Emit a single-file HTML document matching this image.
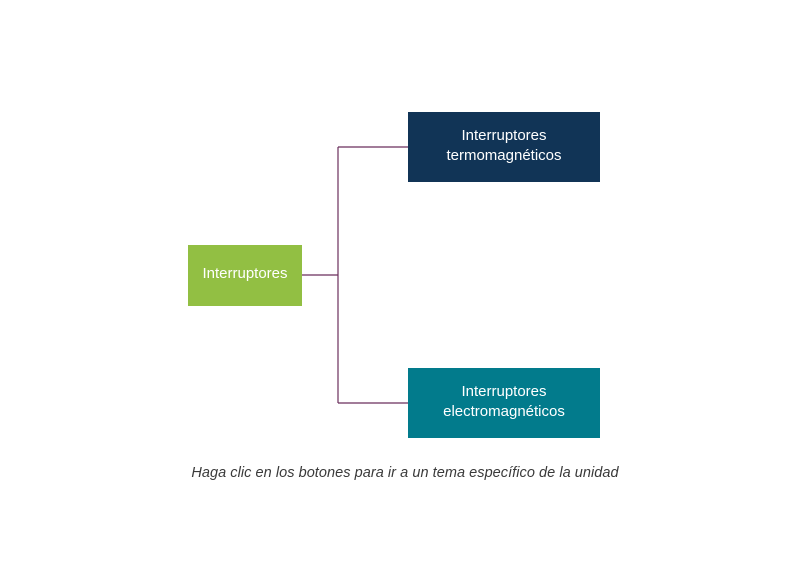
<!DOCTYPE html>
<html><head><style>
body{margin:0;width:810px;height:570px;background:#fff;position:relative;font-family:"Liberation Sans",sans-serif;overflow:hidden}
.b{position:absolute;color:#fff;display:flex;align-items:center;justify-content:center;text-align:center;font-size:15px;line-height:20px;padding-bottom:3px;box-sizing:border-box}
.cap{position:absolute;left:0;width:810px;top:465px;text-align:center;font-style:italic;font-size:14.5px;letter-spacing:0.05px;color:#3a3a3a}
</style></head><body>
<svg width="810" height="570" style="position:absolute;left:0;top:0">
<path d="M302 275H338M338 147V403M338 147H408M338 403H408" stroke="#6b2e5c" stroke-width="1.2" fill="none"/>
</svg>
<div class="b" style="left:188px;top:245px;width:114px;height:61px;background:#92bf43">Interruptores</div>
<div class="b" style="left:408px;top:112px;width:192px;height:70px;background:#113456">Interruptores<br>termomagnéticos</div>
<div class="b" style="left:408px;top:368px;width:192px;height:70px;background:#027b8c">Interruptores<br>electromagnéticos</div>
<div class="cap">Haga clic en los botones para ir a un tema específico de la unidad</div>
</body></html>
